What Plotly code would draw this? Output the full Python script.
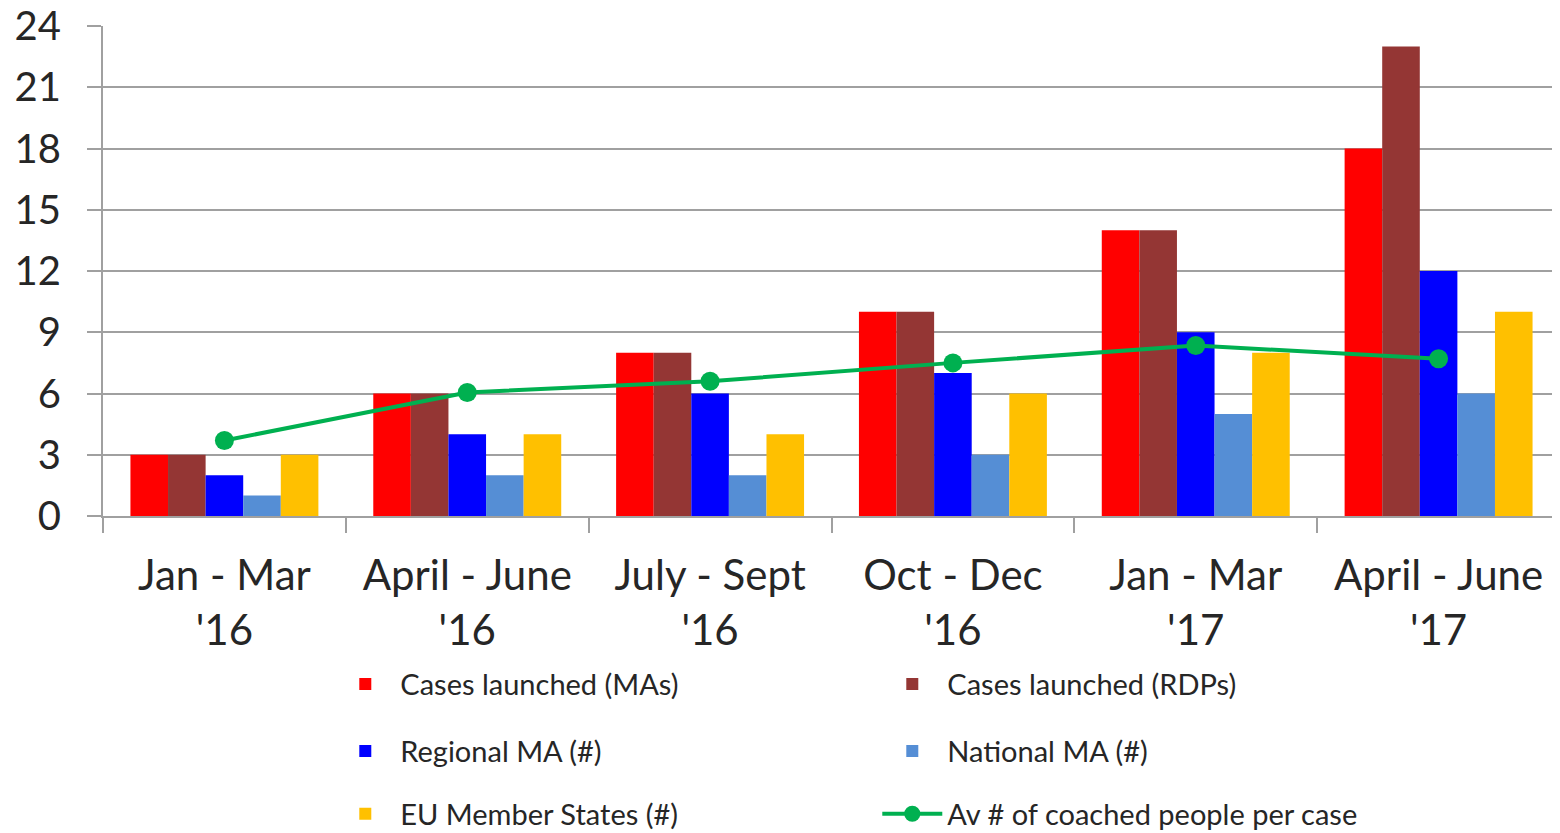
import plotly.graph_objects as go

categories = ["Jan - Mar<br>'16", "April - June<br>'16", "July - Sept<br>'16",
              "Oct - Dec<br>'16", "Jan - Mar<br>'17", "April - June<br>'17"]
cases_mas = [3, 6, 8, 10, 14, 18]
cases_rdps = [3, 6, 8, 10, 14, 23]
regional_ma = [2, 4, 6, 7, 9, 12]
national_ma = [1, 2, 2, 3, 5, 6]
eu_states = [3, 4, 4, 6, 8, 10]
av_coached = [3.7, 6.05, 6.6, 7.5, 8.35, 7.7]
y_ticks = [0, 3, 6, 9, 12, 15, 18, 21, 24]

FONT = "Lato"
fig = go.Figure()
bars = [
    ("Cases launched (MAs)", cases_mas, "#FF0000", "legend"),
    ("Cases launched (RDPs)", cases_rdps, "#943634", "legend"),
    ("Regional MA (#)", regional_ma, "#0000FF", "legend2"),
    ("National MA (#)", national_ma, "#558ED5", "legend2"),
    ("EU Member States (#)", eu_states, "#FFC000", "legend3"),
]
for name, vals, col, lg in bars:
    fig.add_trace(go.Bar(x=categories, y=vals, name=name, marker_color=col,
                         marker_line_width=0, legend=lg))
fig.add_trace(go.Scatter(x=categories, y=av_coached, name="Av # of coached people per case",
                         mode="lines+markers", line=dict(color="#00B050", width=4),
                         marker=dict(size=19, color="#00B050"), legend="legend3"))

leg_common = dict(orientation="h", x=0.156, xanchor="left", yanchor="middle",
                  entrywidth=472, entrywidthmode="pixels", itemwidth=60,
                  font=dict(family=FONT, size=29, color="#262626"),
                  bgcolor="rgba(0,0,0,0)", traceorder="normal")
fig.update_layout(
    width=1552, height=825,
    margin=dict(l=95, r=0, t=18, b=317, autoexpand=False),
    paper_bgcolor="white", plot_bgcolor="white",
    barmode="group", bargap=0.226, bargroupgap=0,
    font=dict(family=FONT, color="#262626"),
    legend=dict(y=-0.343, **leg_common),
    legend2=dict(y=-0.48, **leg_common),
    legend3=dict(y=-0.608, **leg_common),
    xaxis=dict(showline=True, linecolor="#A0A0A0", linewidth=2, automargin=False,
               ticks="outside", tickson="boundaries", ticklen=15, tickcolor="#A0A0A0", tickwidth=2,
               ticklabelstandoff=22, ticklabeloverflow="allow",
               tickfont=dict(family=FONT, size=42, color="#262626"), showgrid=False),
    yaxis=dict(range=[0, 24], tickvals=y_ticks, showline=True, linecolor="#A0A0A0", linewidth=2,
               automargin=False,
               ticks="outside", ticklen=14, tickcolor="#A0A0A0", tickwidth=2,
               showgrid=True, gridcolor="#A0A0A0", gridwidth=2, zeroline=False,
               ticklabelstandoff=18, ticklabeloverflow="allow",
               tickfont=dict(family=FONT, size=40, color="#262626")),
)
fig.write_html("out.html")
